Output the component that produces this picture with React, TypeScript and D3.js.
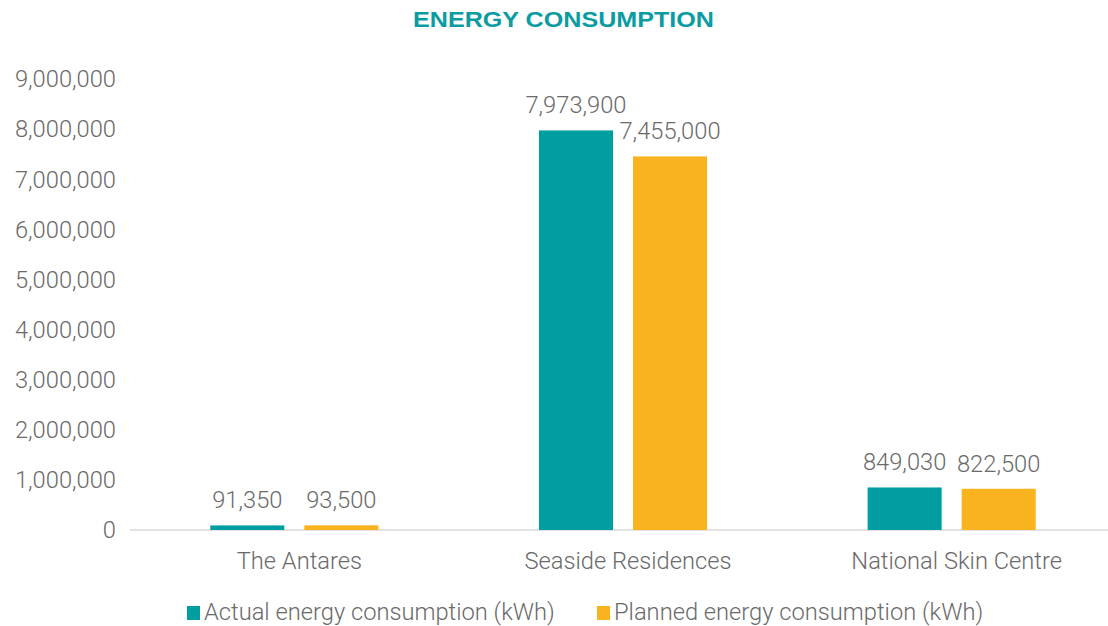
import React, { useEffect, useRef } from 'react';
import * as d3 from 'd3';

const categories = ['The Antares', 'Seaside Residences', 'National Skin Centre'];
const actual = [91350, 7973900, 849030];
const planned = [93500, 7455000, 822500];
const seriesNames = ['Actual energy consumption (kWh)', 'Planned energy consumption (kWh)'];
const seriesColors = ['#009DA1', '#F8B31F'];
const yTicks = [0, 1000000, 2000000, 3000000, 4000000, 5000000, 6000000, 7000000, 8000000, 9000000];

const W = 1108;
const H = 626;
const FONT = 'Roboto, "Liberation Sans", sans-serif';
const GREY = '#6a6a6a';

export default function App() {
    const svgRef = useRef<SVGSVGElement>(null);

    useEffect(() => {
        if (!svgRef.current) return;
        const svg = d3.select(svgRef.current);
        svg.selectAll('*').remove();

        const margin = { top: 79, bottom: 96, left: 130 };
        const fmt = d3.format(',');

        const x = d3.scaleBand<string>()
            .domain(categories)
            .range([margin.left, 1116]);
        const xInner = d3.scaleBand<number>()
            .domain([0, 1])
            .range([0, x.bandwidth()])
            .paddingInner(0.2128)
            .paddingOuter(0.854);
        const y = d3.scaleLinear()
            .domain([0, 9000000])
            .range([H - margin.bottom, margin.top]);

        // title
        svg.append('text')
            .attr('x', 413)
            .attr('y', 27)
            .attr('textLength', 301)
            .attr('lengthAdjust', 'spacingAndGlyphs')
            .attr('font-family', 'Arial, "Liberation Sans", sans-serif')
            .attr('font-weight', 'bold')
            .attr('font-size', 22)
            .attr('fill', '#0A9CA1')
            .text('ENERGY CONSUMPTION');

        const label = (sel: any) => sel
            .attr('font-family', FONT)
            .attr('font-weight', 300)
            .attr('font-size', 23.7)
            .attr('fill', GREY);

        // y tick labels
        svg.append('g')
            .selectAll('text')
            .data(yTicks)
            .join('text')
            .attr('x', 116)
            .attr('y', d => y(d))
            .attr('dy', '0.35em')
            .attr('text-anchor', 'end')
            .call(label)
            .text(d => fmt(d));

        // baseline
        svg.append('line')
            .attr('x1', margin.left)
            .attr('x2', W)
            .attr('y1', y(0))
            .attr('y2', y(0))
            .attr('stroke', '#d9d9d9')
            .attr('stroke-width', 1.5);

        const series = [actual, planned];
        series.forEach((vals, si) => {
            const g = svg.append('g');
            g.selectAll('rect')
                .data(vals)
                .join('rect')
                .attr('x', (_d, i) => (x(categories[i]) as number) + (xInner(si) as number))
                .attr('y', d => y(d))
                .attr('width', xInner.bandwidth())
                .attr('height', d => y(0) - y(d))
                .attr('fill', seriesColors[si]);
            g.selectAll('text')
                .data(vals)
                .join('text')
                .attr('x', (_d, i) => (x(categories[i]) as number) + (xInner(si) as number) + xInner.bandwidth() / 2)
                .attr('y', d => y(d) - 17)
                .attr('text-anchor', 'middle')
                .call(label)
                .text(d => fmt(d));
        });

        // category labels
        svg.append('g')
            .selectAll('text')
            .data(categories)
            .join('text')
            .attr('x', d => (x(d) as number) + x.bandwidth() / 2 + 5)
            .attr('y', 569)
            .attr('text-anchor', 'middle')
            .call(label)
            .text(d => d);

        // legend
        const legendX = [187, 597];
        const lg = svg.append('g');
        seriesNames.forEach((name, i) => {
            lg.append('rect')
                .attr('x', legendX[i])
                .attr('y', 606)
                .attr('width', 13)
                .attr('height', 14)
                .attr('fill', seriesColors[i]);
            lg.append('text')
                .attr('x', legendX[i] + 17)
                .attr('y', 620)
                .call(label)
                .text(name);
        });
    }, []);

    return (
        <div style={{ position: 'absolute', top: 0, left: 0, width: W, height: H, background: '#fff' }}>
            <svg ref={svgRef} width={W} height={H} style={{ display: 'block' }}></svg>
        </div>
    );
}
